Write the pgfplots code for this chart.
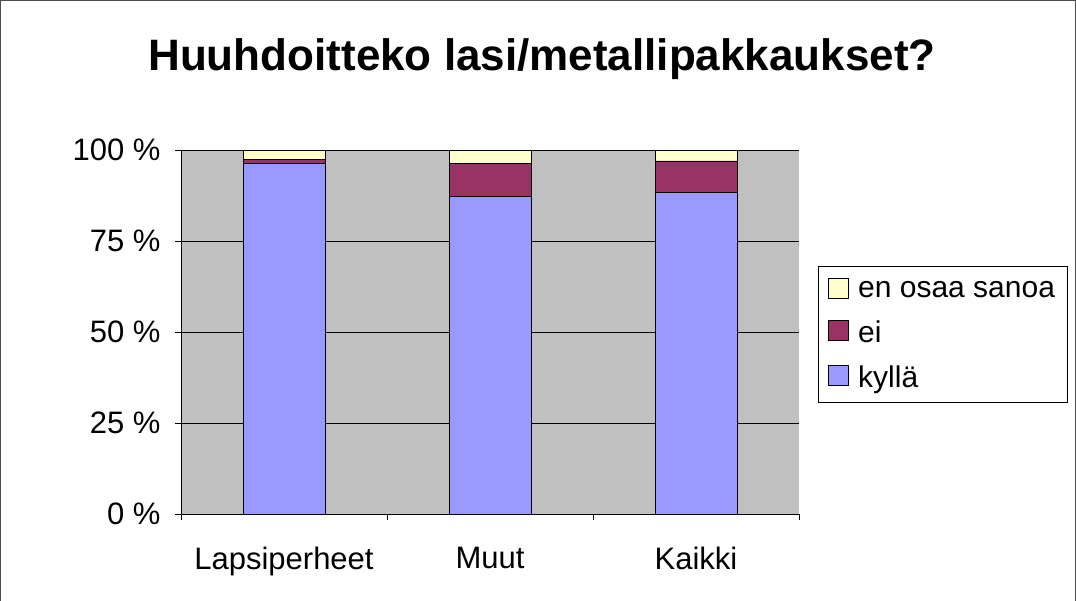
\documentclass[border=0pt]{standalone}
\usepackage{fontspec}
\setmainfont{Liberation Sans}
\usepackage{pgfplots}
\pgfplotsset{compat=1.18}
\definecolor{kylla}{HTML}{9999FF}
\definecolor{ei}{HTML}{993366}
\definecolor{eos}{HTML}{FFFFCC}
\definecolor{plotbg}{HTML}{C0C0C0}
\begin{document}
\begin{tikzpicture}[x=1pt,y=1pt]
\path[use as bounding box] (0,0) rectangle (1076,601);
\draw[black!70, line width=1pt] (0.5,0) -- (0.5,600.5) -- (1075.5,600.5) -- (1075.5,0);
\node[font=\bfseries\fontsize{44}{52}\selectfont, anchor=base] at (542,530) {Huuhdoitteko lasi/metallipakkaukset?};
\begin{axis}[
  at={(181pt,87pt)}, anchor=south west,
  scale only axis, width=618pt, height=364pt,
  xmin=-0.5, xmax=2.5, ymin=0, ymax=100,
  ybar stacked, bar width=82pt,
  axis x line*=bottom, axis y line*=left,
  axis line style={-, black, line width=0.8pt},
  axis background/.style={fill=plotbg},
  xtick={-0.5,0.5,1.5,2.5},
  x tick label as interval,
  xticklabels={Lapsiperheet,Muut,Kaikki},
  ytick={0,25,50,75,100},
  yticklabels={0 \%,25 \%,50 \%,75 \%,100 \%},
  ymajorgrids, grid style={black, line width=0.8pt},
  tick align=outside, major tick length=6pt,
  tick style={black, line width=0.8pt},
  tick label style={font=\fontsize{31}{37}\selectfont},
  xticklabel style={yshift=-24pt},
  yticklabel style={xshift=-11pt},
  legend style={at={(1.0307,0.681)}, anchor=north west, draw=black, line width=0.8pt,
    font=\fontsize{30}{36}\selectfont, row sep=18pt, inner xsep=10pt, inner ysep=11pt,
    cells={anchor=west}},
  reverse legend,
  legend image code/.code={\draw[#1, draw=black, line width=0.8pt] (0pt,-8pt) rectangle (20pt,12pt); \path (27pt,2pt);},
]
\addplot[fill=kylla, draw=black, line width=0.8pt] coordinates {(0,96.4) (1,87.2) (2,88.4)};
\addplot[fill=ei, draw=black, line width=0.8pt] coordinates {(0,0.9) (1,9.2) (2,8.6)};
\addplot[fill=eos, draw=black, line width=0.8pt] coordinates {(0,2.7) (1,3.6) (2,3.0)};
\legend{kyllä,ei,en osaa sanoa}
\end{axis}
\end{tikzpicture}
\end{document}
